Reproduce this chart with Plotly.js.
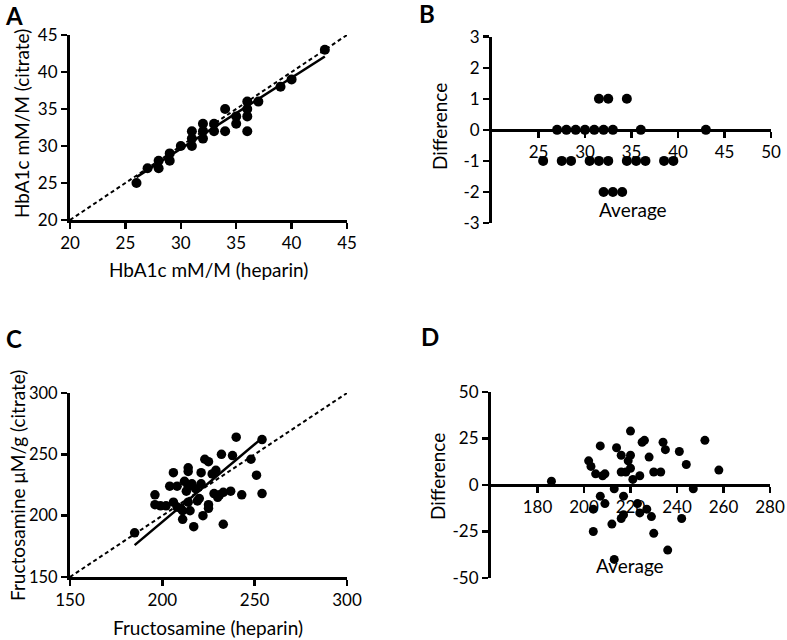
<!DOCTYPE html>
<html><head><meta charset="utf-8">
<script src="https://cdn.plot.ly/plotly-3.0.1.min.js"></script>
<style>body{margin:0;background:#fff;} #chart{width:787px;height:640px;}</style>
</head><body><div id="chart"></div>
<script>
// Panel A: HbA1c heparin vs citrate
const hbaHeparin = [26,27,28,28,29,29,30,31,31,31,32,32,32,33,33,34,34,35,35,36,36,36,36,37,39,40,43];
const hbaCitrate = [25,27,28,27,29,28,30,32,31,30,33,32,31,33,32,35,32,34,33,36,35,34,32,36,38,39,43];
const hbaFitX = [26, 43];
const hbaFitY = [25.8, 42.1];
const hbaIdentity = [20, 45];
// Panel B: HbA1c Bland-Altman
const hbaDiffAvg = [31.5,32.5,34.5, 27,28,29,30,31,32,33,36,43, 25.5,27.5,28.5,30.5,31.5,32.5,34.5,35.5,36.5,38.5,39.5, 32,33,34];
const hbaDiff = [1,1,1, 0,0,0,0,0,0,0,0,0, -1,-1,-1,-1,-1,-1,-1,-1,-1,-1,-1, -2,-2,-2];
const hbaDiffTicks = [-3,-2,-1,0,1,2,3];
const hbaDiffTickText = ['-3','-2','-1','0','1','2','3'];
// Panel C: Fructosamine heparin vs citrate
const fruHeparin = [185,196,196,199,202,204,206,206,208,208,210,211,211,212,213,214,214,214,214,215,217,220,221,221,222,223,225,225,225,227,228,229,230,231,232,233,233,237,238,240,243,248,251,254,254,216,218,219];
const fruCitrate = [186,217,209,208,208,224,235,211,224,207,206,204,197,228,220,239,236,224,211,204,191,214,235,226,200,246,244,209,206,234,218,237,215,217,250,219,193,220,249,264,217,246,233,262,218,226,222,212];
const fruFitX = [185, 253];
const fruFitY = [176, 262];
const fruIdentity = [150, 300];
// Panel D: Fructosamine Bland-Altman
const fruDiffAvg = [186,202,203,204,204,205,207,207,208,209,209,212,213,213,214,216,216,216,217,217,218,219,220,220,220,221,223,224,224,225,226,227,228,229,230,230,233,234,235,236,241,242,244,247,252,258];
const fruDiff = [2,13,10,-25,-13,6,21,-6,5,-10,6,-21,-2,-40,20,7,16,-18,-16,-6,7,13,9,16,29,3,-10,5,-15,23,24,-13,15,-17,-26,7,7,23,19,-35,18,-18,11,-2,24,8];
const fruDiffTicks = [-50,-25,0,25,50];
const fruDiffTickText = ['-50','-25','0','25','50'];

const W = 787, H = 640;
const px = v => v / W;
const py = v => 1 - v / H;
const FONT = "Lato, 'Open Sans', sans-serif";

function pts(x, y, xa, ya, size) {
  return {x, y, xaxis: xa, yaxis: ya, type: 'scatter', mode: 'markers', cliponaxis: false,
    marker: {color: '#000', size: size}, hoverinfo: 'skip'};
}
function line(x, y, xa, ya, dash, w) {
  return {x, y, xaxis: xa, yaxis: ya, type: 'scatter', mode: 'lines', cliponaxis: false,
    line: {color: '#000', width: w, dash: dash}, hoverinfo: 'skip'};
}

const data = [
  line(hbaIdentity, hbaIdentity, 'x', 'y', '4px,3px', 2),
  line(hbaFitX, hbaFitY, 'x', 'y', 'solid', 2.5),
  pts(hbaHeparin, hbaCitrate, 'x', 'y', 10),
  pts(hbaDiffAvg, hbaDiff, 'x2', 'y2', 10),
  line(fruIdentity, fruIdentity, 'x3', 'y3', '4px,3px', 2),
  line(fruFitX, fruFitY, 'x3', 'y3', 'solid', 2.5),
  pts(fruHeparin, fruCitrate, 'x3', 'y3', 9.5),
  pts(fruDiffAvg, fruDiff, 'x4', 'y4', 9)
];

const ax = {showline: true, linecolor: '#000', linewidth: 3, ticks: 'outside', ticklen: 6,
  tickwidth: 2.5, tickcolor: '#000', showgrid: false, zeroline: false,
  tickfont: {family: FONT, size: 17, color: '#000'}, fixedrange: true};

const yBmid = (py(223) + py(36.7)) / 2;
const yDmid = (py(578) + py(392)) / 2;

const layout = {
  width: W, height: H, margin: {l: 0, r: 0, t: 0, b: 0},
  paper_bgcolor: '#fff', plot_bgcolor: 'rgba(0,0,0,0)', showlegend: false,
  font: {family: FONT, color: '#000'},
  xaxis: Object.assign({}, ax, {domain: [px(70), px(347)], range: [20, 45], tickvals: [20,25,30,35,40,45], anchor: 'y'}),
  yaxis: Object.assign({}, ax, {domain: [py(220), py(35)], range: [20, 45], tickvals: [20,25,30,35,40,45], anchor: 'x'}),
  xaxis2: Object.assign({}, ax, {domain: [px(492), px(771)], range: [20, 50], tickvals: [25,30,35,40,45,50], anchor: 'free', position: yBmid}),
  yaxis2: Object.assign({}, ax, {domain: [py(223), py(36.7)], range: [-3, 3], tickmode: 'array', tickvals: hbaDiffTicks, ticktext: hbaDiffTickText, anchor: 'x2'}),
  xaxis3: Object.assign({}, ax, {domain: [px(70), px(347)], range: [150, 300], tickvals: [150,200,250,300], anchor: 'y3'}),
  yaxis3: Object.assign({}, ax, {domain: [py(577), py(393)], range: [150, 300], tickvals: [150,200,250,300], anchor: 'x3', tickfont: {family: FONT, size: 16.5, color: '#000'}}),
  xaxis4: Object.assign({}, ax, {domain: [px(491), px(770)], range: [160, 280], tickvals: [180,200,220,240,260,280], anchor: 'free', position: yDmid}),
  yaxis4: Object.assign({}, ax, {domain: [py(578), py(392)], range: [-50, 50], tickmode: 'array', tickvals: fruDiffTicks, ticktext: fruDiffTickText, anchor: 'x4'}),
  annotations: []
};

function note(text, x, y, size, bold, angle) {
  layout.annotations.push({text: bold ? '<b>' + text + '</b>' : text, xref: 'paper', yref: 'paper',
    x: px(x), y: py(y), xanchor: 'center', yanchor: 'middle', showarrow: false, textangle: angle || 0,
    font: {family: FONT, size: size, color: '#000'}});
}
note('A', 14, 15, 24, true);
note('B', 427, 14, 24, true);
note('C', 14, 338, 24, true);
note('D', 430, 336, 24, true);
note('HbA1c mM/M (heparin)', 208, 269, 19, false);
note('HbA1c mM/M (citrate)', 22, 124, 19, false, -90);
note('Difference', 439, 127, 19, false, -90);
note('Average', 633, 209, 19, false);
note('Fructosamine (heparin)', 208, 627, 19, false);
note('Fructosamine μM/g (citrate)', 17, 486, 19, false, -90);
note('Difference', 437, 477, 19, false, -90);
note('Average', 630, 565, 19, false);

Plotly.newPlot('chart', data, layout, {staticPlot: true, displayModeBar: false});
</script>
</body></html>
